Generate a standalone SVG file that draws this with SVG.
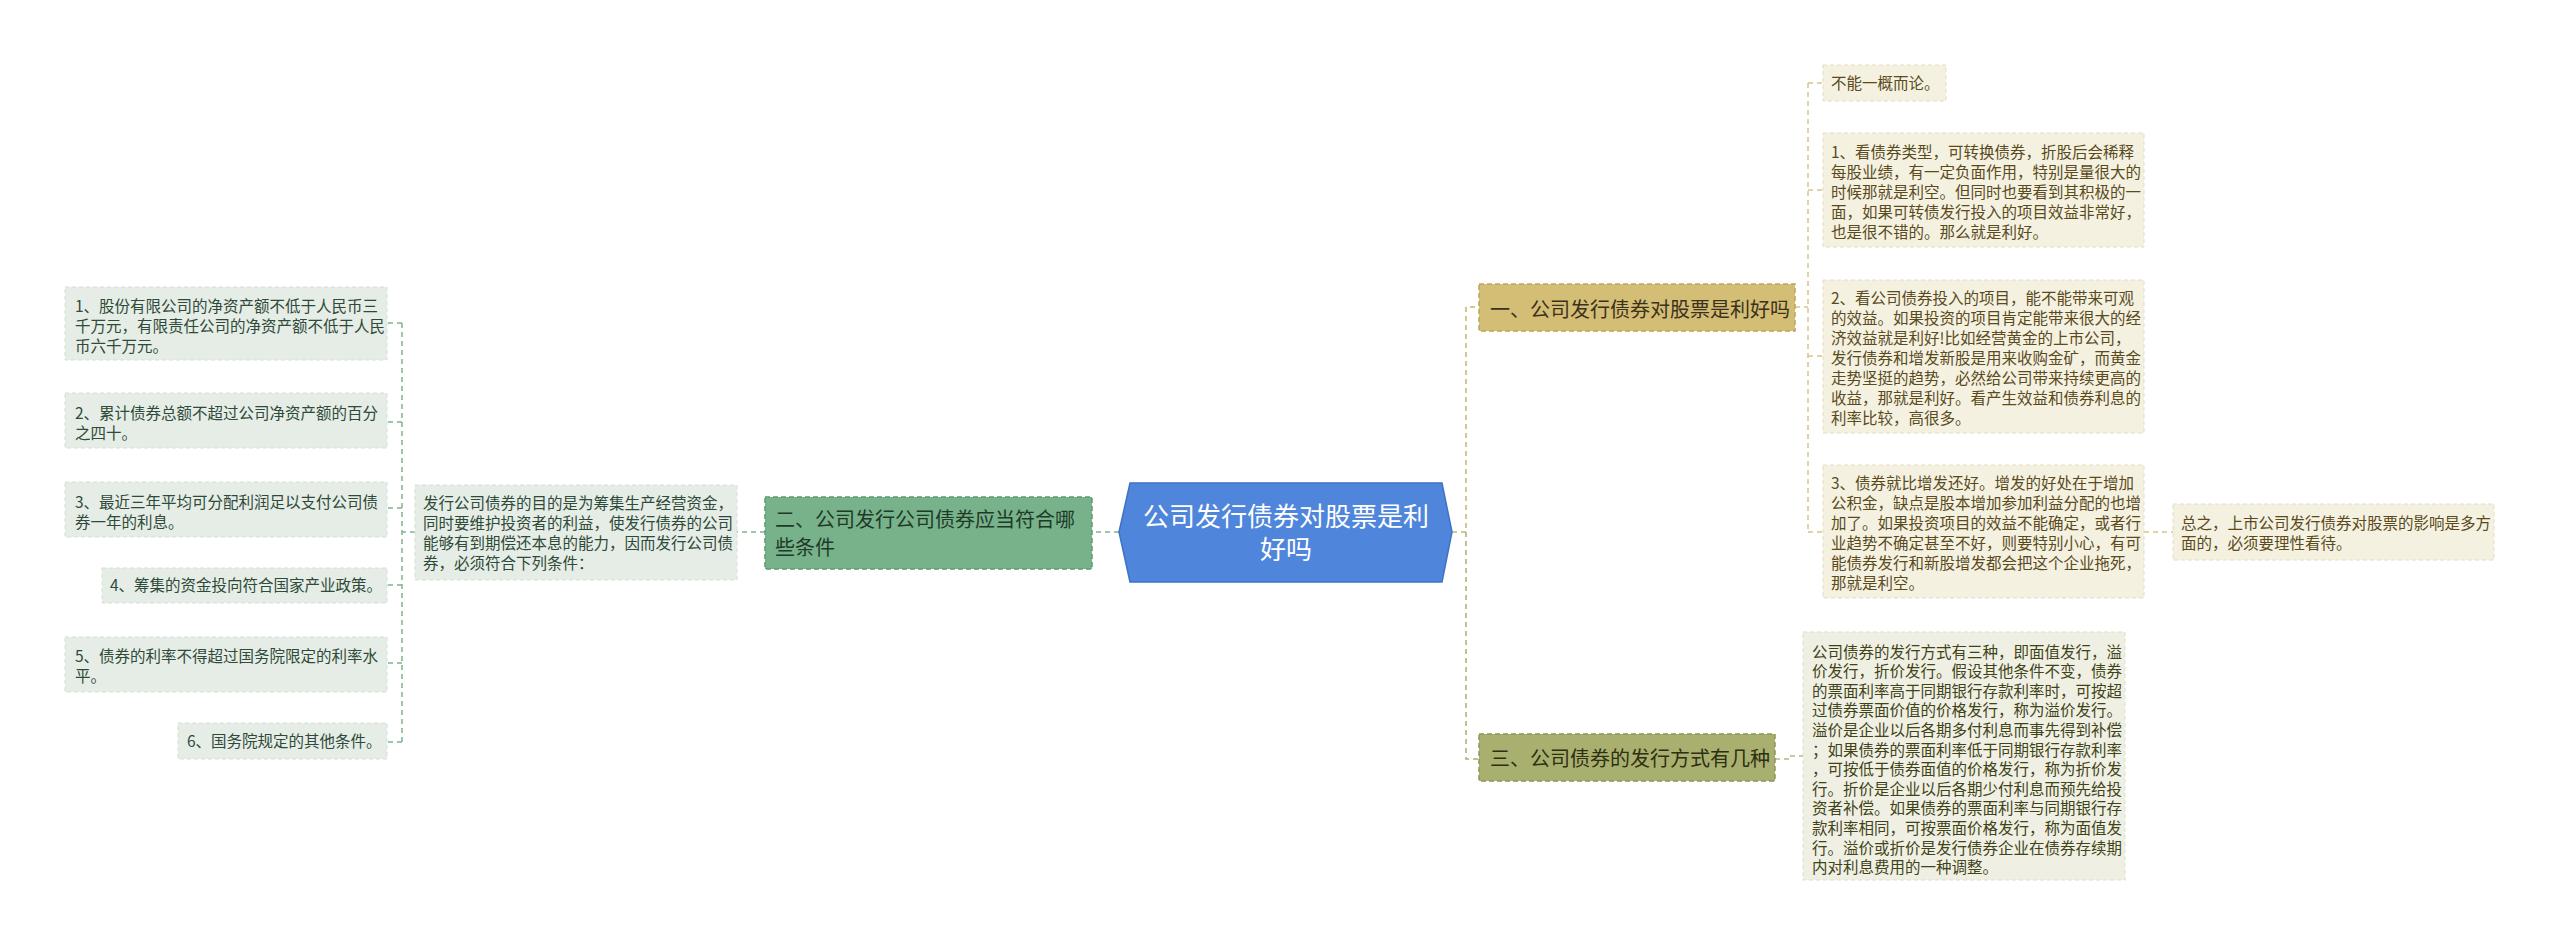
<svg xmlns="http://www.w3.org/2000/svg" width="2560" height="949" viewBox="0 0 2560 949">
<style>
text{font-family:"Noto Sans CJK SC","Noto Sans",sans-serif;}
.leafR{fill:#f4f1e1;stroke:#e4dcc0;stroke-width:1;stroke-dasharray:4 3;}
.leafO{fill:#eff0e3;stroke:#dcdfc4;stroke-width:1;stroke-dasharray:4 3;}
.leafG{fill:#e5ede6;stroke:#d3e0d5;stroke-width:1;stroke-dasharray:4 3;}
.tR{font-size:15.5px;fill:#5a4a1c;}
.tO{font-size:15.5px;fill:#3f4318;}
.tG{font-size:15.5px;fill:#2f4a38;}
.br{font-size:20px;}
.c{fill:none;stroke-width:1.5;stroke-dasharray:5 4;}
</style>
<rect width="2560" height="949" fill="#ffffff"/>
<g id="connectors">
<path class="c" stroke="#c9b46e" d="M1452,532 H1466 V307 H1479"/>
<path class="c" stroke="#a9b072" d="M1466,532 V759 H1479"/>
<path class="c" stroke="#d6c688" d="M1795,307 H1808 M1808,83 V532 M1808,83 H1823 M1808,190 H1823 M1808,356 H1823 M1808,532 H1823 M2144,532 H2173"/>
<path class="c" stroke="#b4ba80" d="M1775,759 H1790 V756 H1803"/>
<path class="c" stroke="#7fb58f" d="M1119,532 H1092 M765,532 H737 M415,532 H402 M402,323 V742 M402,323 H387 M402,422 H387 M402,508 H387 M402,585 H387 M402,663 H387 M402,742 H387"/>
</g>
<g id="root">
<polygon points="1119,532 1130,483 1442,483 1452,532 1442,582 1130,582" fill="#4f86db" stroke="#3d72c6" stroke-width="1.5"/>
<text x="1286" y="526" font-size="26" fill="#ffffff" text-anchor="middle">公司发行债券对股票是利</text>
<text x="1286" y="559" font-size="26" fill="#ffffff" text-anchor="middle">好吗</text>
</g>
<g id="branch1">
<rect x="1479" y="284" width="316" height="47" fill="#d4bd74" stroke="#bba45c" stroke-width="1.5" stroke-dasharray="5 3"/>
<text class="br" x="1490" y="317" fill="#3a321c">一、公司发行债券对股票是利好吗</text>
</g>
<g id="leafR0">
<rect class="leafR" x="1823" y="65" width="123" height="36"/>
<text class="tR" x="1831" y="88.5">不能一概而论。</text>
</g>
<g id="leafR1">
<rect class="leafR" x="1823" y="133" width="321" height="114"/>
<text class="tR"><tspan x="1831" y="157.5">1、看债券类型，可转换债券，折股后会稀释</tspan><tspan x="1831" y="177.5">每股业绩，有一定负面作用，特别是量很大的</tspan><tspan x="1831" y="197.5">时候那就是利空。但同时也要看到其积极的一</tspan><tspan x="1831" y="217.5">面，如果可转债发行投入的项目效益非常好，</tspan><tspan x="1831" y="237.5">也是很不错的。那么就是利好。</tspan></text>
</g>
<g id="leafR2">
<rect class="leafR" x="1823" y="280" width="321" height="153"/>
<text class="tR"><tspan x="1831" y="303.5">2、看公司债券投入的项目，能不能带来可观</tspan><tspan x="1831" y="323.5">的效益。如果投资的项目肯定能带来很大的经</tspan><tspan x="1831" y="343.5">济效益就是利好!比如经营黄金的上市公司，</tspan><tspan x="1831" y="363.5">发行债券和增发新股是用来收购金矿，而黄金</tspan><tspan x="1831" y="383.5">走势坚挺的趋势，必然给公司带来持续更高的</tspan><tspan x="1831" y="403.5">收益，那就是利好。看产生效益和债券利息的</tspan><tspan x="1831" y="423.5">利率比较，高很多。</tspan></text>
</g>
<g id="leafR3">
<rect class="leafR" x="1823" y="465" width="321" height="133"/>
<text class="tR"><tspan x="1831" y="488.5">3、债券就比增发还好。增发的好处在于增加</tspan><tspan x="1831" y="508.5">公积金，缺点是股本增加参加利益分配的也增</tspan><tspan x="1831" y="528.5">加了。如果投资项目的效益不能确定，或者行</tspan><tspan x="1831" y="548.5">业趋势不确定甚至不好，则要特别小心，有可</tspan><tspan x="1831" y="568.5">能债券发行和新股增发都会把这个企业拖死，</tspan><tspan x="1831" y="588.5">那就是利空。</tspan></text>
</g>
<g id="leafR4">
<rect class="leafR" x="2173" y="504" width="321" height="56"/>
<text class="tR"><tspan x="2181" y="528.5">总之，上市公司发行债券对股票的影响是多方</tspan><tspan x="2181" y="548.5">面的，必须要理性看待。</tspan></text>
</g>
<g id="branch3">
<rect x="1479" y="734" width="296" height="47" fill="#a9af6f" stroke="#8f9655" stroke-width="1.5" stroke-dasharray="5 3"/>
<text class="br" x="1490" y="766" fill="#2e3012">三、公司债券的发行方式有几种</text>
</g>
<g id="leafO1">
<rect class="leafO" x="1803" y="632" width="322" height="248"/>
<text class="tO"><tspan x="1812" y="657.5">公司债券的发行方式有三种，即面值发行，溢</tspan><tspan x="1812" y="677.1">价发行，折价发行。假设其他条件不变，债券</tspan><tspan x="1812" y="696.7">的票面利率高于同期银行存款利率时，可按超</tspan><tspan x="1812" y="716.3">过债券票面价值的价格发行，称为溢价发行。</tspan><tspan x="1812" y="735.9">溢价是企业以后各期多付利息而事先得到补偿</tspan><tspan x="1812" y="755.5">；如果债券的票面利率低于同期银行存款利率</tspan><tspan x="1812" y="775.1">，可按低于债券面值的价格发行，称为折价发</tspan><tspan x="1812" y="794.7">行。折价是企业以后各期少付利息而预先给投</tspan><tspan x="1812" y="814.3">资者补偿。如果债券的票面利率与同期银行存</tspan><tspan x="1812" y="833.9">款利率相同，可按票面价格发行，称为面值发</tspan><tspan x="1812" y="853.5">行。溢价或折价是发行债券企业在债券存续期</tspan><tspan x="1812" y="873.1">内对利息费用的一种调整。</tspan></text>
</g>
<g id="branch2">
<rect x="765" y="497" width="327" height="72" fill="#77b28a" stroke="#5f9a72" stroke-width="1.5" stroke-dasharray="5 3"/>
<text class="br" fill="#1f3a28"><tspan x="775" y="527">二、公司发行公司债券应当符合哪</tspan><tspan x="775" y="555">些条件</tspan></text>
</g>
<g id="leafG0">
<rect class="leafG" x="415" y="485" width="322" height="95"/>
<text class="tG"><tspan x="423" y="508.5">发行公司债券的目的是为筹集生产经营资金，</tspan><tspan x="423" y="528.5">同时要维护投资者的利益，使发行债券的公司</tspan><tspan x="423" y="548.5">能够有到期偿还本息的能力，因而发行公司债</tspan><tspan x="423" y="568.5">券，必须符合下列条件：</tspan></text>
</g>
<g id="leafG1">
<rect class="leafG" x="65" y="287" width="322" height="73"/>
<text class="tG"><tspan x="75" y="311.5">1、股份有限公司的净资产额不低于人民币三</tspan><tspan x="75" y="331.5">千万元，有限责任公司的净资产额不低于人民</tspan><tspan x="75" y="351.5">币六千万元。</tspan></text>
</g>
<g id="leafG2">
<rect class="leafG" x="65" y="393" width="322" height="55"/>
<text class="tG"><tspan x="75" y="418.5">2、累计债券总额不超过公司净资产额的百分</tspan><tspan x="75" y="438.5">之四十。</tspan></text>
</g>
<g id="leafG3">
<rect class="leafG" x="65" y="482" width="322" height="55"/>
<text class="tG"><tspan x="75" y="507.5">3、最近三年平均可分配利润足以支付公司债</tspan><tspan x="75" y="527.5">券一年的利息。</tspan></text>
</g>
<g id="leafG4">
<rect class="leafG" x="102" y="568" width="285" height="35"/>
<text class="tG" x="110" y="591">4、筹集的资金投向符合国家产业政策。</text>
</g>
<g id="leafG5">
<rect class="leafG" x="65" y="637" width="322" height="55"/>
<text class="tG"><tspan x="75" y="661.5">5、债券的利率不得超过国务院限定的利率水</tspan><tspan x="75" y="681.5">平。</tspan></text>
</g>
<g id="leafG6">
<rect class="leafG" x="178" y="723" width="209" height="36"/>
<text class="tG" x="187" y="747">6、国务院规定的其他条件。</text>
</g>
</svg>
